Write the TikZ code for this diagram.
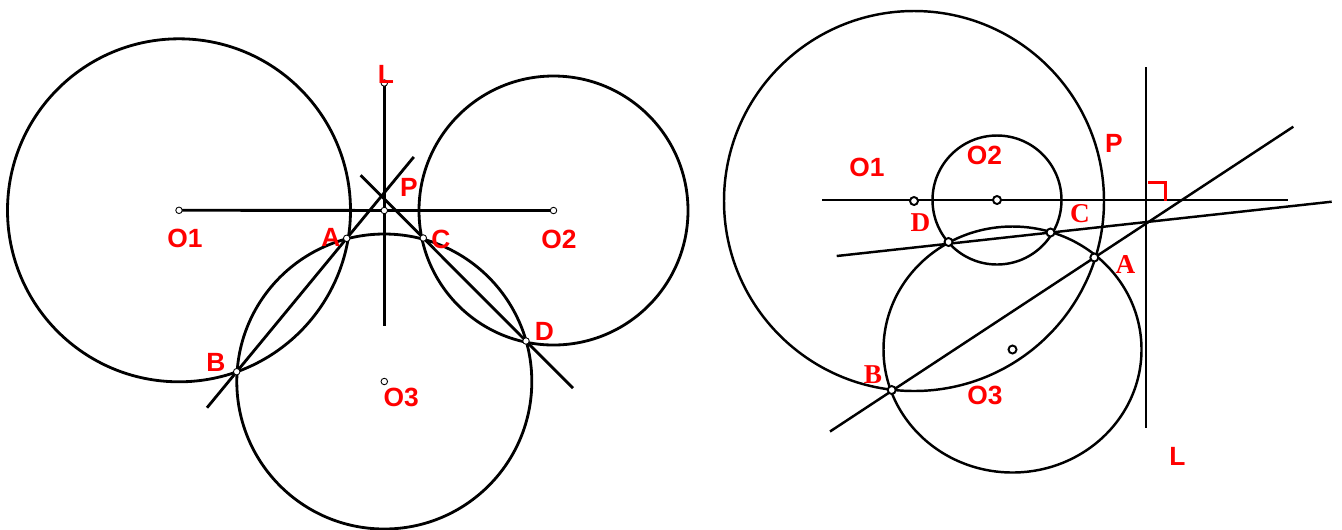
\documentclass[tikz,border=0pt]{standalone}
\usepackage{fontspec}
\setmainfont{Liberation Sans}
\newfontfamily\serifbold{Liberation Serif}
\usetikzlibrary{calc}

\begin{document}
\begin{tikzpicture}[x=0.02cm, y=-0.02cm,
    every node/.style={inner sep=0pt},
    lbl/.style={text=red, font=\bfseries\fontsize{15}{15}\selectfont},
    tlbl/.style={text=red, font=\serifbold\bfseries\fontsize{15.5}{15}\selectfont},
    pt/.style={circle, draw, fill=white, line width=0.5pt, minimum size=0.13cm},
    bpt/.style={circle, draw, fill=white, line width=1.1pt, minimum size=0.16cm},
    fig/.style={line width=1.6pt},
    rfig/.style={line width=1.4pt}]
    \useasboundingbox (0,0) rectangle (1342,529);

    % left figure
    \coordinate (O1) at (179,210.3);
    \coordinate (O2) at (553.5,210.5);
    \coordinate (O3) at (384.3,381.5);
    \coordinate (P) at (384.3,210.5);
    \coordinate (L) at (384.3,83);
    \coordinate (Lend) at (384.3,326);
    \coordinate (A) at (346.7,238.3);
    \coordinate (B) at (236.7,371.7);
    \coordinate (C) at (423.3,238);
    \coordinate (D) at (526,341);
    \coordinate (ab1) at ($(B)!-0.27!(A)$);
    \coordinate (ab2) at ($(B)!1.61!(A)$);
    \coordinate (cd1) at ($(C)!-0.61!(D)$);
    \coordinate (cd2) at ($(C)!1.458!(D)$);

    \draw[fig] (O1) circle[radius=171.5];
    \draw[fig] (O2) circle[radius=134.5];
    \draw[fig] (O3) circle[radius=147.5];
    \draw[fig] (O1) -- (O2);
    \draw[fig] (L) -- (Lend);
    \draw[fig] (ab1) -- (ab2);
    \draw[fig] (cd1) -- (cd2);

    \foreach \p in {O1,O2,O3,P,L,A,B,C,D}
        \node[pt] (pt\p) at (\p) {};

    \node[lbl] (labL) at (386,74) {L};
    \node[lbl] (labP) at (409,187.5) {P};
    \node[lbl] (labA) at (331,237) {A};
    \node[lbl] (labC) at (441,239.5) {C};
    \node[lbl] (labB) at (216,362) {B};
    \node[lbl] (labD) at (544.5,331.7) {D};
    \node[lbl] (labO1) at (185,238.5) {O1};
    \node[lbl] (labO2) at (559,239) {O2};
    \node[lbl] (labO3) at (401.3,397.8) {O3};

    % right figure
    \coordinate (Q1) at (914,201);
    \coordinate (Q2) at (997,200);
    \coordinate (Q3) at (1012.5,349.5);
    \coordinate (rA) at (1094.3,257.5);
    \coordinate (rB) at (891.7,390);
    \coordinate (rC) at (1050.5,232.5);
    \coordinate (rD) at (948.5,242);
    \coordinate (h1) at (822,200);
    \coordinate (h2) at (1288.3,200);
    \coordinate (v1) at (1146,67.3);
    \coordinate (v2) at (1146,428);
    \coordinate (s1) at (830,431.5);
    \coordinate (s2) at (1293.3,126.7);
    \coordinate (t1) at (836.7,256);
    \coordinate (t2) at (1331.7,201.7);

    \draw[rfig] (Q1) circle[radius=190];
    \draw[rfig] (Q2) circle[radius=64.5];
    \draw[rfig] (Q3) ellipse[x radius=129, y radius=123];
    \draw[rfig] (h1) -- (h2);
    \draw[rfig] (v1) -- (v2);
    \draw[rfig] (s1) -- (s2);
    \draw[rfig] (t1) -- (t2);
    \draw[red, line width=1.7pt] (1148,182.7) -- (1165,182.7) -- (1165,200.7);

    \foreach \p in {Q1,Q2,Q3,rA,rB,rC,rD}
        \node[bpt] (pt\p) at (\p) {};

    \node[lbl] (labQ1) at (867,167.5) {O1};
    \node[lbl] (labQ2) at (984.5,155) {O2};
    \node[lbl] (labQ3) at (985,395) {O3};
    \node[lbl] (labrP) at (1114,143.5) {P};
    \node[lbl] (labrL) at (1177.5,456) {L};
    \node[tlbl] (labrA) at (1125.5,264) {A};
    \node[tlbl] (labrB) at (873,374.5) {B};
    \node[tlbl] (labrC) at (1080,213.5) {C};
    \node[tlbl] (labrD) at (920.5,223) {D};
\end{tikzpicture}
\end{document}
